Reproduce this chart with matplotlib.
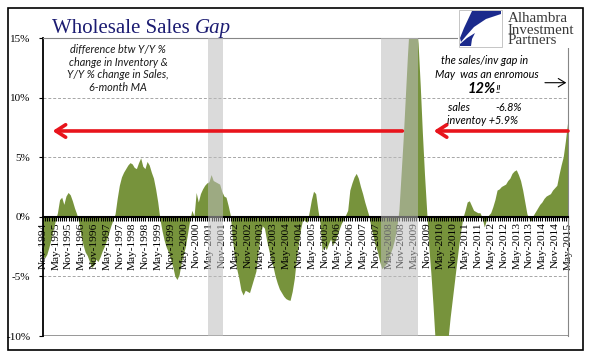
import numpy as np
import pandas as pd
import matplotlib
matplotlib.use("Agg")
import matplotlib.pyplot as plt
from matplotlib.patches import Rectangle, Polygon

# monthly gap (inventory y/y minus sales y/y, 6-month MA), Nov-1994 .. May-2015
gap = [
    -3.3, -3.5, -3.2, -2.6, -1.9, -1.1, -0.4, 0.3, 1.4, 1.6,
    1.0, 1.7, 2.0, 1.8, 1.3, 0.7, 0.2, -0.5, -1.6, -2.4,
    -3.0, -3.3, -3.8, -4.3, -4.1, -3.6, -3.8, -3.4, -2.9, -2.5,
    -2.0, -1.4, -0.8, -0.3, 0.2, 1.5, 2.6, 3.3, 3.7, 4.0,
    4.3, 4.5, 4.4, 4.1, 4.0, 4.5, 4.9, 4.2, 4.0, 4.6,
    4.3, 3.7, 3.2, 2.3, 1.2, -0.2, -1.2, -2.0, -2.6, -3.0,
    -3.6, -4.2, -5.0, -5.3, -4.9, -3.9, -3.2, -2.5, -1.4, -0.3,
    0.5, 0.0, 2.0, 1.2, 1.9, 2.3, 2.6, 2.8, 2.9, 3.5,
    3.0, 2.9, 2.8, 2.7, 2.1, 1.7, 1.6, 0.9, 0.1, -1.9,
    -3.5, -4.4, -5.2, -6.2, -6.6, -6.2, -6.3, -6.4, -5.8, -5.2,
    -4.6, -3.0, -1.6, -0.8, -1.0, -2.0, -2.8, -3.6, -4.2, -5.0,
    -5.6, -6.1, -6.4, -6.7, -6.9, -7.0, -7.05, -6.3, -5.2, -3.5,
    -2.2, -1.0, -0.2, -0.4, -0.5, 0.4, 1.4, 2.1, 1.9, 0.6,
    -0.5, -2.9, -2.5, -2.8, -2.3, -1.9, -2.4, -2.1, -1.6, -1.1,
    -0.6, -0.3, 0.1, 0.5, 2.2, 2.8, 3.3, 3.6, 3.2, 2.5,
    1.9, 1.2, 0.6, 0.0, -1.0, -1.7, -2.5, -3.0, -3.8, -4.4,
    -4.2, -4.0, -3.6, -3.1, -2.6, -1.9, -0.9, 0.5, 3.5, 6.5,
    10.0, 13.5, 16.5, 18.5, 18.5, 16.5, 14.5, 11.0, 7.0, 3.5,
    0.5, -2.5, -4.8, -7.5, -10.5, -12.0, -13.0, -13.0, -12.5, -11.5,
    -10.3, -8.5, -7.0, -5.5, -4.0, -2.5, -1.2, -0.1, 0.5, 1.2,
    1.3, 0.9, 0.5, 0.4, 0.3, 0.3, -0.1, -0.9, -0.3, 0.1,
    0.3, 0.8, 1.4, 2.2, 2.3, 2.5, 2.6, 2.7, 3.0, 3.2,
    3.6, 3.8, 3.9, 3.5, 3.0, 2.2, 1.2, 0.2, -0.2, -0.4,
    0.1, 0.4, 0.7, 1.0, 1.2, 1.5, 1.7, 1.8, 1.9, 2.2,
    2.4, 2.6, 3.5, 4.3, 5.0, 6.3, 7.8,
]
months = pd.date_range("1994-11-01", periods=len(gap), freq="MS")
tick_idx = list(range(0, len(gap), 6))
tick_labels = [months[i].strftime("%b-%Y") for i in tick_idx]
recessions = [(77.3, 84.2), (158.4, 175.6)]   # shaded spans, month index
arrow_level = 7.2

W, H = 596, 358
fig = plt.figure(figsize=(W / 100, H / 100), dpi=100)
fig.patch.set_facecolor("white")

def fx(px):
    return px / W

def fy(py):
    return 1 - py / H

ax = fig.add_axes([fx(43), fy(336), fx(568) - fx(43), fy(38) - fy(336)])
x = np.arange(len(gap))
ax.fill_between(x, 0, gap, color="#77933c", linewidth=0, zorder=1)

for lvl in [10, 5, -5]:
    ax.axhline(lvl, color="#a6a6a6", lw=0.7, ls=(0, (3, 2)), zorder=0.5)
ax.axhline(-10, color="#868686", lw=1.2, zorder=0.5)

for a, b in recessions:
    ax.axvspan(a, b, color="#bdbdbd", alpha=0.55, lw=0, zorder=3)

ax.set_xlim(0, len(gap) - 1)
ax.set_ylim(-10, 15)

ax.spines["bottom"].set_position(("data", 0))
ax.spines["bottom"].set_linewidth(1.5)
ax.spines["left"].set_linewidth(1.3)
ax.spines["top"].set_color("#868686")
ax.spines["right"].set_color("#868686")

serif = "Liberation Serif"
ax.set_xticks(tick_idx)
ax.set_xticklabels(tick_labels, rotation=90, fontfamily=serif, fontsize=8.2, va="top")
ax.set_xticks(x, minor=True)
ax.tick_params(axis="x", which="both", direction="out", length=3, width=0.8, pad=1)
ax.set_yticks([-10, -5, 0, 5, 10, 15])
ax.set_yticklabels(["-10%", "-5%", "0%", "5%", "10%", "15%"], fontfamily=serif, fontsize=8)
ax.tick_params(axis="y", length=3, pad=6)

# red arrows
for x0, x1 in [(168.4, 4.5), (246, 183.1)]:
    ax.annotate("", xy=(x1, arrow_level), xytext=(x0, arrow_level),
                arrowprops=dict(arrowstyle="->,head_length=0.7,head_width=0.45",
                                color="#e8141c", lw=2.6, shrinkA=0, shrinkB=0),
                zorder=5, annotation_clip=False)
# small black arrow
ax.annotate("", xy=(245.2, 11.25), xytext=(235.2, 11.25),
            arrowprops=dict(arrowstyle="->,head_length=0.5,head_width=0.3",
                            color="black", lw=0.8, shrinkA=0, shrinkB=0))

# title
t1 = fig.text(fx(52), fy(33), "Wholesale Sales", fontfamily=serif, fontsize=15,
              color="#1c1c72", va="baseline")
renderer = fig.canvas.get_renderer()
bb = t1.get_window_extent(renderer)
fig.text((bb.x1 + 5) / W, fy(33), "Gap", fontfamily=serif, fontsize=15, style="italic",
         color="#1c1c72", va="baseline")

sans = "Lato"
fig.text(fx(118), fy(68.5), "difference btw Y/Y %\nchange in Inventory &\nY/Y % change in Sales,\n6-month MA",
         fontfamily=sans, style="italic", fontsize=7.8, ha="center", va="center",
         linespacing=1.15, color="#1a1a1a")

fig.text(fx(485), fy(60), "the sales/inv gap in", fontfamily=sans, style="italic",
         fontsize=7.8, ha="center", va="center")
fig.text(fx(487), fy(74), "May  was an enromous", fontfamily=sans, style="italic",
         fontsize=7.8, ha="center", va="center")
fig.text(fx(496), fy(89), "12%", fontfamily=sans, style="italic", fontweight="bold",
         fontsize=10.5, ha="right", va="center")
fig.text(fx(496), fy(89.5), "!!", fontfamily=sans, style="italic",
         fontsize=7.8, ha="left", va="center")
fig.text(fx(448), fy(107.5), "sales", fontfamily=sans, style="italic",
         fontsize=7.8, ha="left", va="center")
fig.text(fx(522), fy(107.5), "-6.8%", fontfamily=sans, style="italic",
         fontsize=7.8, ha="right", va="center")
fig.text(fx(447), fy(120), "inventoy +5.9%", fontfamily=sans, style="italic",
         fontsize=7.8, ha="left", va="center")

# logo
logo = fig.add_axes([fx(458), fy(48), fx(596) - fx(458), fy(8) - fy(48)])
logo.set_xlim(0, 138)
logo.set_ylim(40, 0)
logo.axis("off")
logo.add_patch(Rectangle((0, 0), 138, 40, color="white", zorder=0))
logo.add_patch(Rectangle((1, 2), 43, 37, fill=False, ec="#bbbbbb", lw=0.6))
logo.add_patch(Polygon([(14, 3), (43, 3), (43, 6), (28, 11), (16, 19), (8, 28), (3, 34), (2, 30), (6, 20)],
                       color="#1b2a8c", lw=0))
logo.add_patch(Polygon([(2, 36), (9, 30), (17, 25), (14, 31), (13, 38), (2, 38)],
                       color="#1b2a8c", lw=0))
logo.text(50, 22, "Alhambra\nInvestment\nPartners", fontfamily=serif, fontsize=10.8,
          color="#3a3a3a", va="center", ha="left", linespacing=0.8)

# outer frame
fig.patches.append(Rectangle((fx(8), fy(350)), fx(583) - fx(8), fy(8) - fy(350),
                             transform=fig.transFigure, fill=False, ec="black", lw=1.2,
                             zorder=10))

fig.savefig("out.png", dpi=100)
